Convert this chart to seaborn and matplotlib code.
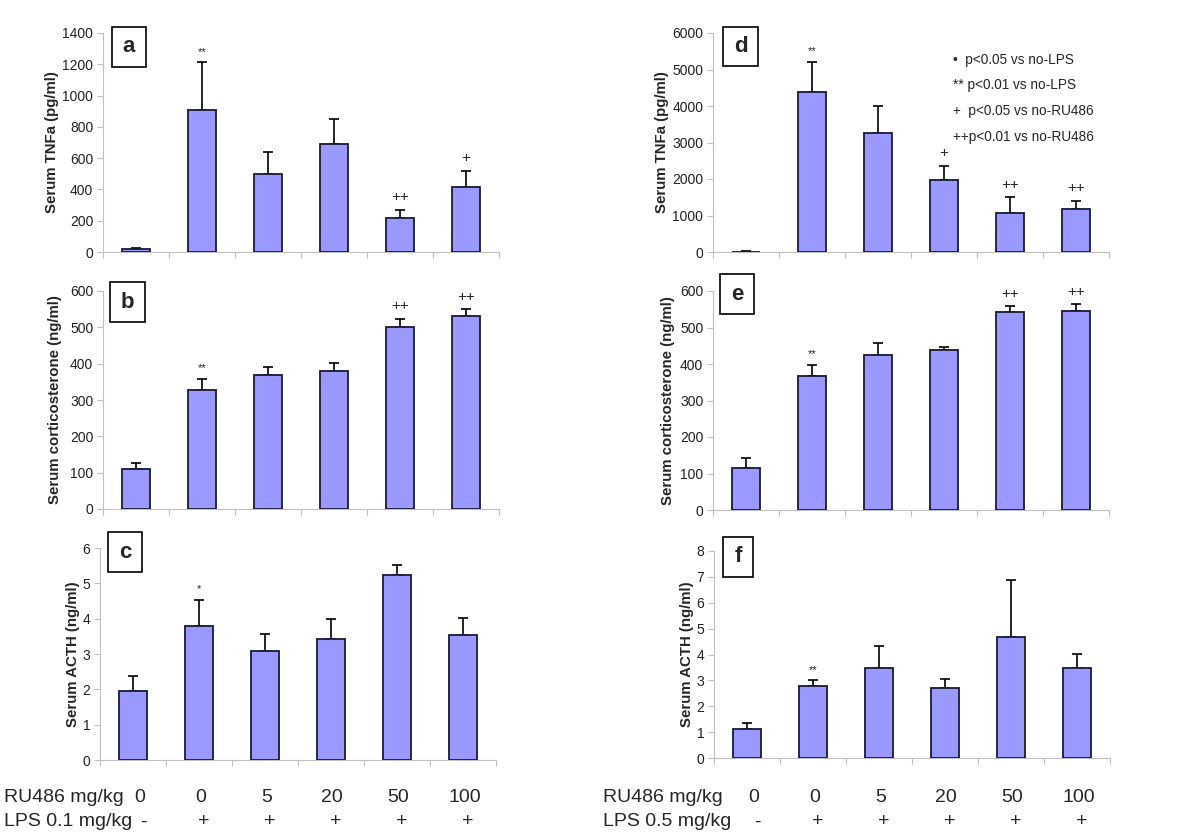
import numpy as np
import pandas as pd
import matplotlib
matplotlib.use('Agg')
import matplotlib.pyplot as plt
import seaborn as sns
from matplotlib.patches import Rectangle

# Data (mean and upper SEM)
groups = [0, 1, 2, 3, 4, 5]
ru486_doses = ['0', '0', '5', '20', '50', '100']
lps_signs = ['-', '+', '+', '+', '+', '+']

tnf_low = [22, 909, 499, 689, 220, 416]
tnf_low_err = [2, 303, 143, 162, 51, 105]
cort_low = [109, 327, 368, 381, 502, 532]
cort_low_err = [18, 31, 24, 22, 21, 18]
acth_low = [1.95, 3.80, 3.08, 3.42, 5.25, 3.54]
acth_low_err = [0.44, 0.74, 0.50, 0.57, 0.26, 0.49]

tnf_high = [10, 4390, 3265, 1976, 1070, 1189]
tnf_high_err = [25, 823, 723, 384, 430, 220]
cort_high = [116, 366, 426, 437, 542, 545]
cort_high_err = [26, 32, 32, 9, 16, 19]
acth_high = [1.11, 2.79, 3.46, 2.70, 4.68, 3.46]
acth_high_err = [0.23, 0.21, 0.85, 0.37, 2.19, 0.55]

marks_a = ['', '**', '', '', '++', '+']
marks_b = ['', '**', '', '', '++', '++']
marks_c = ['', '*', '', '', '', '']
marks_d = ['', '**', '', '+', '++', '++']
marks_e = ['', '**', '', '', '++', '++']
marks_f = ['', '**', '', '', '', '']

legend_lines = ['\u2022  p<0.05 vs no-LPS', '** p<0.01 vs no-LPS',
                '+  p<0.05 vs no-RU486', '++p<0.01 vs no-RU486']

sns.set_style('white')
plt.rcParams['font.family'] = ['Liberation Sans', 'DejaVu Sans']

W, H = 1200, 839
fig = plt.figure(figsize=(12, 8.39), dpi=100)

BAR = '#9999ff'
EDGE = '#1a1a33'
GRAY = '#c0c0c0'


def fx(px):
    return px / W


def fy(py):
    return 1 - py / H


def panel(rect_px, vals, errs, marks, ymax, ystep, ylabel, label_x, letter, box_px):
    x0, top, x1, bottom = rect_px
    ax = fig.add_axes([fx(x0), fy(bottom), fx(x1) - fx(x0), fy(top) - fy(bottom)])
    df = pd.DataFrame({'group': groups, 'value': vals})
    sns.barplot(data=df, x='group', y='value', ax=ax, color=BAR, saturation=1,
                width=0.42, edgecolor=EDGE, linewidth=1.3, errorbar=None, zorder=3)
    ax.errorbar(groups, vals, yerr=[np.zeros(len(vals)), errs], fmt='none',
                ecolor='black', elinewidth=1.2, capsize=3.5, capthick=1.2, zorder=2)
    for g, v, e, m in zip(groups, vals, errs, marks):
        if m:
            fs = 8 if '*' in m else 11
            ax.annotate(m, (g, v + e), xytext=(0, 4), textcoords='offset points',
                        ha='center', va='bottom', fontsize=fs)
    ax.set_xlim(-0.5, 5.5)
    ax.set_ylim(0, ymax)
    ax.set_yticks(np.arange(0, ymax + ystep / 2, ystep))
    ax.set_xticks([])
    ax.set_xticks(np.arange(-0.5, 6, 1), minor=True)
    ax.tick_params(axis='x', which='minor', bottom=True, length=4, color=GRAY, width=0.8)
    ax.tick_params(axis='y', left=True, length=4, color=GRAY, width=0.8,
                   labelsize=10, labelcolor='#222222', pad=3)
    ax.set_xlabel('')
    ax.set_ylabel(ylabel, fontsize=10.8, fontweight='bold')
    ax.yaxis.set_label_coords(label_x, 0.5)
    sns.despine(ax=ax)
    for s in ('left', 'bottom'):
        ax.spines[s].set_color(GRAY)
        ax.spines[s].set_linewidth(0.8)
    bx0, by0, bx1, by1 = box_px
    fig.add_artist(Rectangle((fx(bx0), fy(by1)), fx(bx1) - fx(bx0), fy(by0) - fy(by1),
                             transform=fig.transFigure, fill=True, facecolor='white',
                             edgecolor='black', linewidth=1.2))
    fig.text(fx((bx0 + bx1) / 2), fy((by0 + by1) / 2), letter, ha='center', va='center',
             fontsize=16, fontweight='bold')
    return ax


ax_a = panel((103, 33, 499, 252), tnf_low, tnf_low_err, marks_a, 1400, 200,
             'Serum TNFa (pg/ml)', -0.110, 'a', (112, 27, 146, 67))
ax_b = panel((103, 291, 499, 509), cort_low, cort_low_err, marks_b, 600, 100,
             'Serum corticosterone (ng/ml)', -0.104, 'b', (110, 282, 145, 322))
ax_c = panel((100, 548, 496, 760), acth_low, acth_low_err, marks_c, 6, 1,
             'Serum ACTH (ng/ml)', -0.051, 'c', (108, 532, 142, 572))
ax_d = panel((713, 33, 1109, 252), tnf_high, tnf_high_err, marks_d, 6000, 1000,
             'Serum TNFa (pg/ml)', -0.112, 'd', (723, 27, 758, 66))
ax_e = panel((713, 291, 1109, 510), cort_high, cort_high_err, marks_e, 600, 100,
             'Serum corticosterone (ng/ml)', -0.096, 'e', (720, 274, 754, 314))
ax_f = panel((714, 551, 1110, 758), acth_high, acth_high_err, marks_f, 8, 1,
             'Serum ACTH (ng/ml)', -0.051, 'f', (723, 537, 753, 577))

# significance legend in panel d
for i, line in enumerate(legend_lines):
    fig.text(fx(953), fy(60 + i * 25.5), line, ha='left', va='center', fontsize=9.8)

# treatment rows under the bottom panels
for ax, lps_label, x_start in ((ax_c, 'LPS 0.1 mg/kg', 4), (ax_f, 'LPS 0.5 mg/kg', 603)):
    fig.text(fx(x_start), fy(797), 'RU486 mg/kg', ha='left', va='center', fontsize=14)
    fig.text(fx(x_start), fy(822), lps_label, ha='left', va='center', fontsize=14)
    tr = matplotlib.transforms.blended_transform_factory(ax.transData, fig.transFigure)
    for g, dose, sign in zip(groups, ru486_doses, lps_signs):
        shift = 0.1 if g == 0 else 0.02
        ax.text(g + shift, fy(797), dose, transform=tr, ha='center', va='center', fontsize=14)
        ax.text(g + shift + 0.05, fy(822), sign, transform=tr, ha='center', va='center',
                fontsize=14)

fig.savefig('out.png', dpi=100)
